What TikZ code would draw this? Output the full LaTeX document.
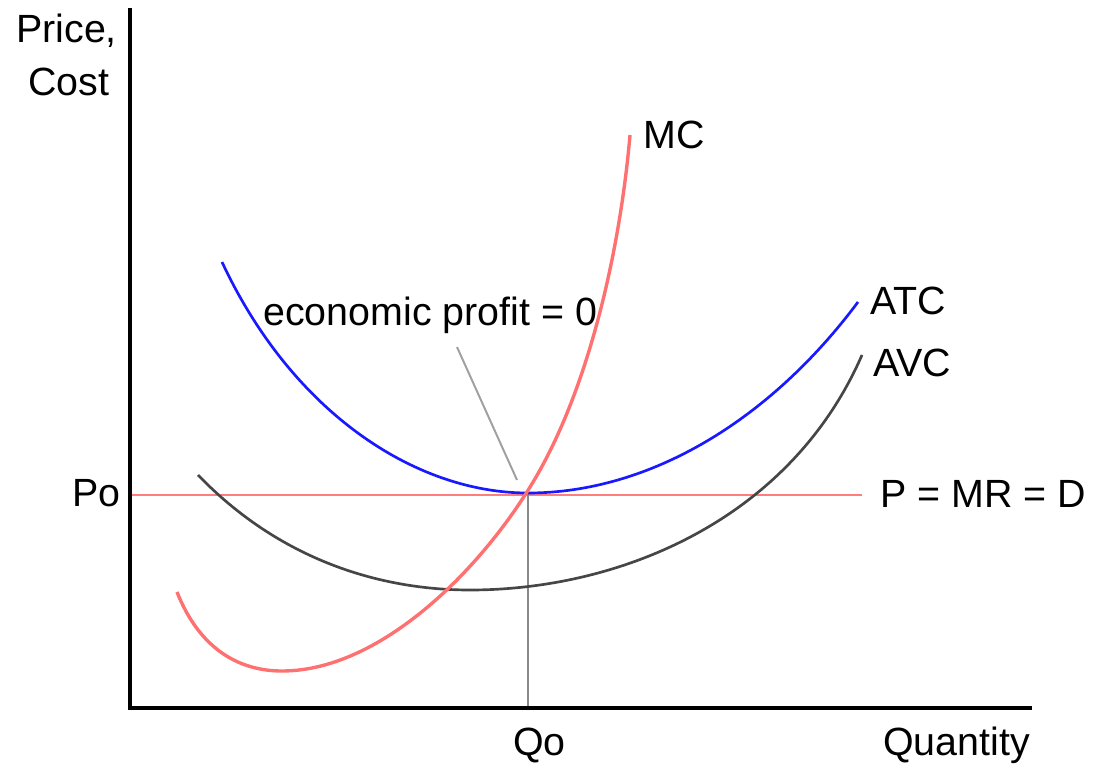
\documentclass[tikz,border=0pt]{standalone}
\usepackage{fontspec}
\setmainfont{Liberation Sans}
\usetikzlibrary{positioning}
\definecolor{mcred}{RGB}{255,112,112}
\definecolor{atcblue}{RGB}{25,25,255}
\definecolor{avcgray}{RGB}{70,70,70}
\definecolor{poline}{RGB}{255,125,125}
\definecolor{qogray}{RGB}{138,138,138}
\definecolor{leadgray}{RGB}{160,160,160}

\begin{document}
\begin{tikzpicture}[x=0.025cm, y=-0.025cm,
  axis/.style={line width=2.3pt, color=black},
  lbl/.style={font=\fontsize{28}{32}\selectfont, inner sep=0pt, anchor=base west},
  mccurve/.style={line width=2.4pt, color=mcred},
  atccurve/.style={line width=1.9pt, color=atcblue},
  avccurve/.style={line width=1.9pt, color=avcgray},
  priceline/.style={line width=1.5pt, color=poline},
  qline/.style={line width=1.6pt, color=qogray},
  leader/.style={line width=1.4pt, color=leadgray}
]
\useasboundingbox (0,0) rectangle (1105,767);

% points of the graph
\coordinate (ytop)   at (130,8);
\coordinate (origin) at (130,708);
\coordinate (xend)   at (1032,708);
\coordinate (po)     at (130,495);
\coordinate (poend)  at (862,495);
\coordinate (qtop)   at (528,494);
\coordinate (qo)     at (528,708);
\coordinate (atcL)   at (222,262);
\coordinate (atcMin) at (528,493);
\coordinate (atcR)   at (858,302);
\coordinate (avcL)   at (198,475);
\coordinate (avcMin) at (470,590);
\coordinate (avcR)   at (862,355);
\coordinate (mcL)    at (177,592);
\coordinate (mcMin)  at (282,671);
\coordinate (mcMid)  at (540,470);
\coordinate (mcTop)  at (630,135);
\coordinate (leadA)  at (457,347);
\coordinate (leadB)  at (517,480);

% curves
\draw[priceline] (po) -- (poend);
\draw[qline] (qtop) -- (qo);
\draw[avccurve] (avcL) .. controls (280,560) and (380,590) .. (avcMin)
                       .. controls (620,590) and (790,520) .. (avcR);
\draw[atccurve] (atcL) .. controls (292,412) and (415,493) .. (atcMin)
                       .. controls (650,493) and (770,420) .. (atcR);
\draw[mccurve] (mcL) .. controls (200,650) and (240,671) .. (mcMin)
                     .. controls (385,671) and (490,560) .. (mcMid)
                     .. controls (590,380) and (620,250) .. (mcTop);
\draw[leader] (leadA) -- (leadB);

% axes
\draw[axis] (ytop) -- (origin) -- (xend);

% labels
\node[lbl] (price) at (16,43)   {Price,};
\node[lbl] (cost)  at (28,96)   {Cost};
\node[lbl] (mc)    at (643,149) {MC};
\node[lbl] (atc)   at (870,315) {ATC};
\node[lbl] (avc)   at (873,376) {AVC};
\node[lbl] (pmrd)  at (880,507) {P = MR = D};
\node[lbl] (polbl) at (72,506)  {Po};
\node[lbl] (qolbl) at (513,755) {Qo};
\node[lbl] (qty)   at (883,755) {Quantity};
\node[lbl] (econ)  at (263,325) {economic profit = 0};

\end{tikzpicture}
\end{document}
